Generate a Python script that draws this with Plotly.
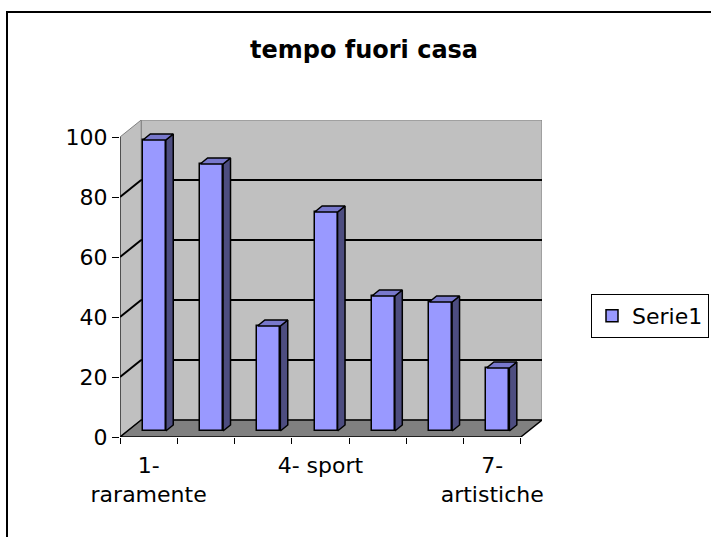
import plotly.graph_objects as go

# ---------------- data ----------------
categories = ["1- raramente", "2-", "3-", "4- sport", "5-", "6-", "7- artistiche"]
values = [97, 89, 35, 73, 45, 43, 21]
y_ticks = [0, 20, 40, 60, 80, 100]
x_tick_idx = [0, 3, 6]
x_tick_text = ["1-<br>raramente", "4- sport", "7-<br>artistiche"]
series_name = "Serie1"
title_text = "tempo fuori casa"

# ---------------- style / 3D geometry ----------------
FONT = "DejaVu Sans"
DX, DY = 0.37, 17 / 3          # depth offset of back wall (x in categories, y in value units)
BAR_W = 0.4
BAR_OFF = 0.1                  # front face shifted right by depth
BAR_BASE = 2.0                 # front face bottom raised by depth
SDX, SDY = 0.13, 2.0           # bar depth
YMAX = y_ticks[-1]
FRONT = "#9999FF"
SIDE = "#4D4D80"
TOP = "#7878CC"
WALL = "#C0C0C0"
FLOOR = "#808080"

n = len(categories)
xs = [i + BAR_OFF for i in range(n)]
x0 = -0.5
x1 = n - 0.5

fig = go.Figure()

# front faces
fig.add_trace(go.Bar(
    x=xs, y=values, base=[BAR_BASE] * n, width=BAR_W,
    marker=dict(color=FRONT, line=dict(color="black", width=1.5)),
    name=series_name, showlegend=True, hoverinfo="skip",
))

# side faces and top faces computed from the values
sx, sy, tx, ty = [], [], [], []
for xc, v in zip(xs, values):
    xl, xr = xc - BAR_W / 2, xc + BAR_W / 2
    b, t = BAR_BASE, BAR_BASE + v
    sx += [xr, xr + SDX, xr + SDX, xr, xr, None]
    sy += [b, b + SDY, t + SDY, t, b, None]
    tx += [xl, xr, xr + SDX, xl + SDX, xl, None]
    ty += [t, t, t + SDY, t + SDY, t, None]

fig.add_trace(go.Scatter(x=sx, y=sy, mode="lines", fill="toself", fillcolor=SIDE,
                         line=dict(color="black", width=1.5), showlegend=False, hoverinfo="skip"))
fig.add_trace(go.Scatter(x=tx, y=ty, mode="lines", fill="toself", fillcolor=TOP,
                         line=dict(color="black", width=1.5), showlegend=False, hoverinfo="skip"))

shapes = []
# back wall
shapes.append(dict(type="rect", xref="x", yref="y", x0=x0 + DX, x1=x1 + DX, y0=DY, y1=YMAX + DY,
                   fillcolor=WALL, line=dict(color="#808080", width=1), layer="below"))
# left wall
shapes.append(dict(type="path", xref="x", yref="y",
                   path=f"M{x0},0 L{x0 + DX},{DY} L{x0 + DX},{YMAX + DY} L{x0},{YMAX} Z",
                   fillcolor=WALL, line=dict(color="#808080", width=1), layer="below"))
# floor
shapes.append(dict(type="path", xref="x", yref="y",
                   path=f"M{x0},0 L{x1},0 L{x1 + DX},{DY} L{x0 + DX},{DY} Z",
                   fillcolor=FLOOR, line=dict(color="black", width=1.5), layer="below"))
# gridlines on back and left wall
for v in y_ticks[1:-1]:
    shapes.append(dict(type="line", xref="x", yref="y", x0=x0 + DX, x1=x1 + DX, y0=v + DY, y1=v + DY,
                       line=dict(color="black", width=2), layer="below"))
    shapes.append(dict(type="line", xref="x", yref="y", x0=x0, x1=x0 + DX, y0=v, y1=v + DY,
                       line=dict(color="black", width=2), layer="below"))
# front vertical axis line
shapes.append(dict(type="line", xref="x", yref="y", x0=x0, x1=x0, y0=0, y1=YMAX,
                   line=dict(color="black", width=1), layer="below"))
# outer chart border (extends past right and bottom edges)
L, R, T, B = 120, 169, 120, 100
PW, PH = 711 - L - R, 537 - T - B
shapes.append(dict(type="rect", xref="paper", yref="paper",
                   x0=(7 - L) / PW, x1=(720 - L) / PW,
                   y0=(537 - B - 560) / PH, y1=(537 - B - 12) / PH,
                   line=dict(color="black", width=2), fillcolor="rgba(0,0,0,0)", layer="above"))

fig.update_layout(
    width=711, height=537,
    margin=dict(l=L, r=R, t=T, b=B, autoexpand=False),
    paper_bgcolor="white", plot_bgcolor="white",
    font=dict(family=FONT, size=22, color="black"),
    title=dict(text=f"<b>{title_text}</b>", font=dict(family=FONT, size=24, color="black"),
               x=364 / 711, xanchor="center", xref="container",
               y=1 - 50 / 537, yanchor="middle", yref="container"),
    showlegend=True,
    legend=dict(x=(591 - L) / PW, y=(537 - B - 294) / PH, xanchor="left", yanchor="top",
                bordercolor="black", borderwidth=1, bgcolor="white",
                font=dict(family=FONT, size=22, color="black")),
    shapes=shapes,
    bargap=0,
)

fig.update_xaxes(
    range=[x0, x1 + DX], showgrid=False, zeroline=False, showline=False,
    tickmode="array", tickvals=x_tick_idx, ticktext=x_tick_text,
    ticks="outside", ticklen=9, tickcolor="rgba(0,0,0,0)",
    minor=dict(tickmode="array", tickvals=[i - 0.5 for i in range(n + 1)],
               ticks="outside", ticklen=6, tickcolor="black", tickwidth=1, showgrid=False),
    fixedrange=True,
)
fig.update_yaxes(
    range=[0, YMAX + DY], showgrid=False, zeroline=False, showline=False,
    tickmode="array", tickvals=y_ticks,
    ticks="outside", ticklen=7, tickcolor="black", tickwidth=1,
    fixedrange=True,
)

fig.write_html("out.html", config={"displayModeBar": False},
               post_script="document.body.style.margin='0';")
